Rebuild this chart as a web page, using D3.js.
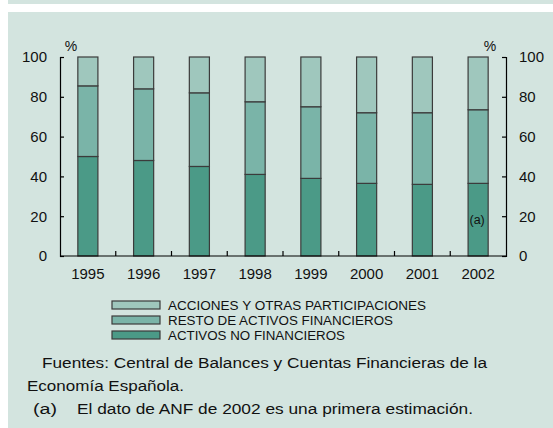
<!DOCTYPE html>
<html>
<head>
<meta charset="utf-8">
<script src="https://cdn.jsdelivr.net/npm/d3@7"></script>
<style>
  body { margin: 0; background: #fff; }
  svg { display: block; font-family: "Liberation Sans", Arial, sans-serif; }
</style>
</head>
<body>
<div id="chart"></div>
<script>
const years = ["1995", "1996", "1997", "1998", "1999", "2000", "2001", "2002"];
const activosNoFin = [50, 48, 45, 41, 39, 36.5, 36, 36.5];
const restoFin = [35.5, 36, 37, 36.5, 36, 35.5, 36, 37];
const acciones = [14.5, 16, 18, 22.5, 25, 28, 28, 26.5];
const yTicks = [0, 20, 40, 60, 80, 100];
const seriesNames = ["ACTIVOS NO FINANCIEROS", "RESTO DE ACTIVOS FINANCIEROS", "ACCIONES Y OTRAS PARTICIPACIONES"];
const notes = [
  "Fuentes: Central de Balances y Cuentas Financieras de la",
  "Economía Española.",
  "El dato de ANF de 2002 es una primera estimación."
];

const width = 553, height = 428;
const bg = "#d3e4df";
const colors = ["#4b9a87", "#7ab4a8", "#9fc7bd"];
const outline = "#3b3b3b";

const svg = d3.select("#chart").append("svg")
  .attr("width", width).attr("height", height);

// top strip + main panel
svg.append("rect").attr("x", 8).attr("y", 0).attr("width", width - 8).attr("height", 4).attr("fill", bg);
svg.append("rect").attr("x", 8).attr("y", 12).attr("width", width - 8).attr("height", height - 12).attr("fill", bg);

const plotL = 60, plotR = 506, plotT = 57, plotB = 256;

const x = d3.scaleBand().domain(years).range([plotL, plotR]).paddingInner(0.64).paddingOuter(0.32);
const y = d3.scaleLinear().domain([0, 100]).range([plotB, plotT]);

const table = years.map((yr, i) => ({ year: yr, anf: activosNoFin[i], resto: restoFin[i], acc: acciones[i] }));
const stack = d3.stack().keys(["anf", "resto", "acc"])(table);

const g = svg.append("g");
stack.forEach((layer, li) => {
  g.selectAll(null).data(layer).join("rect")
    .attr("x", d => x(d.data.year))
    .attr("y", d => y(d[1]))
    .attr("width", x.bandwidth())
    .attr("height", d => y(d[0]) - y(d[1]))
    .attr("fill", colors[li])
    .attr("stroke", outline)
    .attr("stroke-width", 1.2);
});

// axes
const axisStyle = sel => {
  sel.select(".domain").attr("stroke", "#000").attr("stroke-width", 1.2);
  sel.selectAll(".tick line").attr("stroke", "#000").attr("stroke-width", 1.2);
  sel.selectAll(".tick text").attr("fill", "#111").style("font-size", "15px")
    .style("font-family", "Liberation Sans, Arial, sans-serif");
};

svg.append("g").attr("transform", `translate(${plotL},0)`)
  .call(d3.axisLeft(y).tickValues(yTicks).tickSizeInner(-4).tickSizeOuter(-4).tickPadding(13))
  .call(axisStyle);

svg.append("g").attr("transform", `translate(${plotR},0)`)
  .call(d3.axisRight(y).tickValues(yTicks).tickSizeInner(-4).tickSizeOuter(-4).tickPadding(13))
  .call(axisStyle);

// bottom baseline with ticks between categories
const xb = svg.append("g").attr("transform", `translate(0,${plotB})`)
  .call(d3.axisBottom(x).tickSize(0).tickPadding(12))
  .call(axisStyle);
xb.select(".domain").attr("d", `M${plotL},0H${plotR}`);
const step = x.step();
svg.append("g").selectAll("line").data(years.slice(1)).join("line")
  .attr("x1", d => x(d) - (step - x.bandwidth()) / 2)
  .attr("x2", d => x(d) - (step - x.bandwidth()) / 2)
  .attr("y1", plotB).attr("y2", plotB - 5)
  .attr("stroke", "#000").attr("stroke-width", 1.2);

// % labels
svg.append("text").attr("x", 71).attr("y", 51).attr("text-anchor", "middle")
  .style("font-size", "14px").attr("fill", "#111").text("%");
svg.append("text").attr("x", 490).attr("y", 51).attr("text-anchor", "middle")
  .style("font-size", "14px").attr("fill", "#111").text("%");

// (a) marker
svg.append("text").attr("x", x("2002") + x.bandwidth() / 2 - 1).attr("y", y(16))
  .attr("text-anchor", "middle").style("font-size", "12.5px").attr("fill", "#111").text("(a)");

// legend (top row = acciones)
const legend = svg.append("g");
const legendLen = [177, 225, 258];
[2, 1, 0].forEach((si, row) => {
  const ly = 301 + row * 15;
  legend.append("rect").attr("x", 112).attr("y", ly).attr("width", 48).attr("height", 8)
    .attr("fill", colors[si]).attr("stroke", outline).attr("stroke-width", 1.2);
  legend.append("text").attr("x", 168).attr("y", ly + 8.5)
    .attr("textLength", legendLen[si]).attr("lengthAdjust", "spacingAndGlyphs")
    .style("font-size", "12.5px").attr("fill", "#111").text(seriesNames[si]);
});

// notes
const noteX = [42, 27, 77];
const noteY = [368, 391, 414];
const noteLen = [445, 157, 396];
notes.forEach((t, i) => {
  svg.append("text").attr("x", noteX[i]).attr("y", noteY[i])
    .attr("textLength", noteLen[i]).attr("lengthAdjust", "spacingAndGlyphs")
    .style("font-size", "15.5px").attr("fill", "#111").text(t);
});
svg.append("text").attr("x", 33).attr("y", noteY[2])
  .attr("textLength", 24).attr("lengthAdjust", "spacingAndGlyphs")
  .style("font-size", "15.5px").attr("fill", "#111").text("(a)");
</script>
</body>
</html>
